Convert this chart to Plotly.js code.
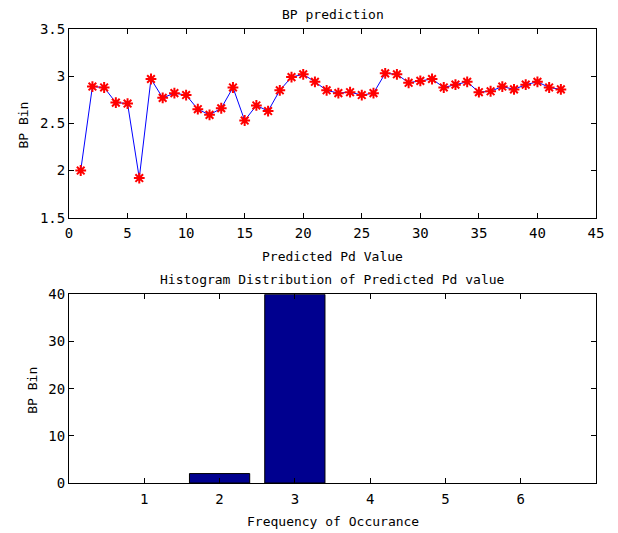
<!DOCTYPE html>
<html>
<head>
<meta charset="utf-8">
<script src="https://cdn.plot.ly/plotly-3.0.1.min.js"></script>
<style>html,body{margin:0;padding:0;background:#fff;}#chart{width:618px;height:533px;}</style>
</head>
<body>
<div id="chart"></div>
<script>
// Top plot: predicted bin per sample
const sampleIndex = [1,2,3,4,5,6,7,8,9,10,11,12,13,14,15,16,17,18,19,20,21,22,23,24,25,26,27,28,29,30,31,32,33,34,35,36,37,38,39,40,41,42];
const bpBin = [2.00,2.89,2.88,2.72,2.71,1.92,2.97,2.77,2.82,2.80,2.65,2.59,2.66,2.88,2.53,2.69,2.63,2.85,2.99,3.02,2.94,2.85,2.82,2.83,2.80,2.82,3.03,3.02,2.93,2.95,2.97,2.88,2.91,2.94,2.83,2.84,2.89,2.86,2.91,2.94,2.88,2.86];

// Bottom plot: histogram counts
const histBins = [1,2,3,4,5,6];
const histCounts = [0,2,40,0,0,0];

const FONT = 'DejaVu Sans Mono, Liberation Mono, monospace';
const fnt = {family: FONT, size: 13, color: '#000'};
const tfnt = {family: FONT, size: 14, color: '#000'};

const axisBase = {
  showline: true, linecolor: '#000', linewidth: 1, mirror: 'ticks',
  ticks: 'inside', ticklen: 5, tickcolor: '#000', tickwidth: 1,
  showgrid: false, zeroline: false, tickfont: tfnt, fixedrange: true
};

const traces = [
  {
    type: 'scatter', mode: 'lines+markers',
    x: sampleIndex, y: bpBin,
    xaxis: 'x', yaxis: 'y',
    line: {color: '#0000FF', width: 1},
    marker: {symbol: 'asterisk-open', size: 9, color: '#FF0000', line: {color: '#FF0000', width: 2}},
    showlegend: false, hoverinfo: 'skip'
  },
  {
    type: 'bar', x: histBins, y: histCounts,
    xaxis: 'x2', yaxis: 'y2', width: 0.8,
    marker: {color: '#00008F', line: {color: '#000', width: histCounts.map(c => c > 0 ? 1 : 0)}},
    showlegend: false, hoverinfo: 'skip'
  }
];

const layout = {
  width: 618, height: 533,
  margin: {l: 69, r: 22, t: 29, b: 50, pad: 0},
  paper_bgcolor: '#fff', plot_bgcolor: '#fff',
  font: fnt,
  showlegend: false,
  xaxis: Object.assign({}, axisBase, {domain: [0, 1], range: [0, 45], tickmode: 'linear', tick0: 0, dtick: 5, anchor: 'y', ticklabelstandoff: 3}),
  yaxis: Object.assign({}, axisBase, {domain: [0.5844, 1], range: [1.5, 3.5], tickmode: 'linear', tick0: 1.5, dtick: 0.5, anchor: 'x'}),
  xaxis2: Object.assign({}, axisBase, {domain: [0, 1], range: [0, 7], tickvals: histBins, anchor: 'y2', ticklabelstandoff: 3}),
  yaxis2: Object.assign({}, axisBase, {domain: [0, 0.4156], range: [0, 40], tickmode: 'linear', tick0: 0, dtick: 10, anchor: 'x2'}),
  annotations: [
    {text: 'BP prediction', xref: 'paper', yref: 'paper', x: 0.5, y: 1.033, xanchor: 'center', yanchor: 'middle', showarrow: false, font: fnt},
    {text: 'Predicted Pd Value', xref: 'paper', yref: 'paper', x: 0.5, y: 0.4989, xanchor: 'center', yanchor: 'middle', showarrow: false, font: fnt},
    {text: 'BP Bin', xref: 'paper', yref: 'paper', x: -0.0867, y: 0.788, xanchor: 'center', yanchor: 'middle', textangle: -90, showarrow: false, font: fnt},
    {text: 'Histogram Distribution of Predicted Pd value', xref: 'paper', yref: 'paper', x: 0.5, y: 0.4487, xanchor: 'center', yanchor: 'middle', showarrow: false, font: fnt},
    {text: 'Frequency of Occurance', xref: 'paper', yref: 'paper', x: 0.5, y: -0.0852, xanchor: 'center', yanchor: 'middle', showarrow: false, font: fnt},
    {text: 'BP Bin', xref: 'paper', yref: 'paper', x: -0.0708, y: 0.2048, xanchor: 'center', yanchor: 'middle', textangle: -90, showarrow: false, font: fnt}
  ]
};

Plotly.newPlot('chart', traces, layout, {staticPlot: true, displayModeBar: false});
</script>
</body>
</html>
